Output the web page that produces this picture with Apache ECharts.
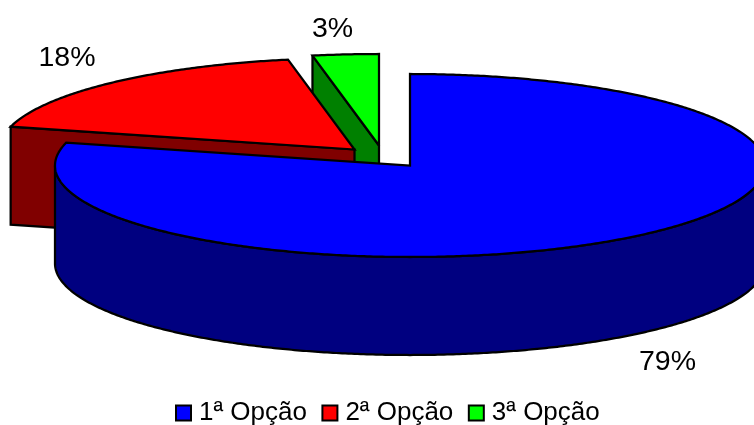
<!DOCTYPE html>
<html>
<head>
<meta charset="utf-8">
<style>html,body{margin:0;padding:0;background:#fff}#c{width:754px;height:425px}</style>
<script src="https://cdn.jsdelivr.net/npm/echarts@6/dist/echarts.min.js"></script>
</head>
<body>
<div id="c"></div>
<script>
const categories = ['1ª Opção', '2ª Opção', '3ª Opção'];
const values = [79, 18, 3];
const topColors = ['#0000FF', '#FF0000', '#00FF00'];
const wallColors = ['#000080', '#800000', '#008000'];

// Projection of the tilted pie, and where each exploded slice and its label sit
const RX = 355, RY = 91.5, DEPTH = 98;
const centers = [[410, 165.5], [354.5, 149.5], [379, 145.5]];
const labelAnchors = [[667.5, 362], [67, 58], [332.5, 29]];

const total = values.reduce((a, b) => a + b, 0);
const starts = values.map((_, i) => values.slice(0, i).reduce((a, b) => a + b, 0) / total * 360);

function pt(c, deg, dy) {
  const t = deg * Math.PI / 180;
  return [c[0] + RX * Math.sin(t), c[1] - RY * Math.cos(t) + (dy || 0)];
}
function arc(c, a0, a1, dy) {
  const out = [], n = Math.max(2, Math.ceil(Math.abs(a1 - a0) * 2));
  for (let i = 0; i <= n; i++) out.push(pt(c, a0 + (a1 - a0) * i / n, dy));
  return out;
}
function poly(points, fill) {
  return { type: 'polygon', shape: { points: points },
    style: { fill: fill, stroke: '#000', lineWidth: 2.25, lineJoin: 'miter', miterLimit: 3 } };
}
function renderSlice(params, api) {
  const i = api.value(0);
  const a0 = starts[i], a1 = a0 + api.value(1) / total * 360;
  const c = centers[i], kids = [];
  // outer rim, only where it faces the viewer
  const r0 = Math.max(a0, 90), r1 = Math.min(a1, 270);
  if (r1 > r0) kids.push(poly(arc(c, r0, r1, 0).concat(arc(c, r1, r0, DEPTH)), wallColors[i]));
  // cut face at the leading edge, when it faces the viewer
  if (Math.cos((a0 - 90) * Math.PI / 180) < -1e-6) {
    const p = pt(c, a0, 0);
    kids.push(poly([p, c, [c[0], c[1] + DEPTH], [p[0], p[1] + DEPTH]], wallColors[i]));
  }
  kids.push(poly([c].concat(arc(c, a0, a1, 0)), topColors[i]));
  kids.push({ type: 'text', style: {
    text: api.value(1) + '%', x: labelAnchors[i][0], y: labelAnchors[i][1],
    align: 'center', verticalAlign: 'middle',
    font: '28.5px "Liberation Sans", Arial, sans-serif', fill: '#000' } });
  return { type: 'group', children: kids };
}

const chart = echarts.init(document.getElementById('c'), null, { renderer: 'canvas' });
chart.setOption({
  animation: false,
  backgroundColor: '#fff',
  legend: {
    data: categories,
    left: 170, top: 395,
    icon: 'rect', itemWidth: 15, itemHeight: 15, itemGap: 14.5,
    selectedMode: false,
    textStyle: { fontFamily: '"Liberation Sans", Arial, sans-serif', fontSize: 26, color: '#000', padding: [0, 0, 0, 3] }
  },
  series: categories.map((name, i) => ({
    type: 'custom',
    name: name,
    coordinateSystem: 'none',
    z: 3 - i,
    silent: true,
    clip: false,
    itemStyle: { color: topColors[i], borderColor: '#000', borderWidth: 2.25 },
    data: [[i, values[i]]],
    renderItem: renderSlice
  }))
});
</script>
</body>
</html>
